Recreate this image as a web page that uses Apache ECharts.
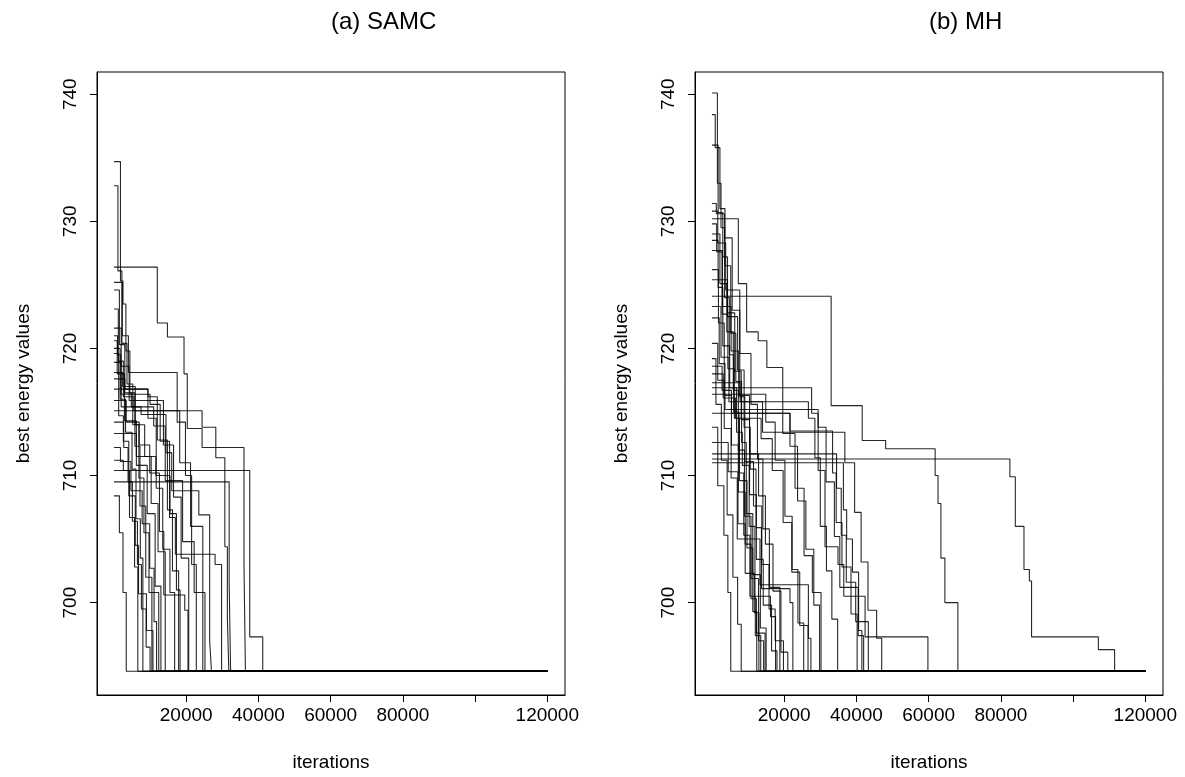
<!DOCTYPE html>
<html>
<head>
<meta charset="utf-8">
<script src="https://cdn.jsdelivr.net/npm/echarts@6/dist/echarts.min.js"></script>
<style>
  html, body { margin: 0; padding: 0; background: #fff; }
  #main { width: 1185px; height: 777px; }
</style>
</head>
<body>
<div id="main"></div>
<script>
// tick values
var xTicks = [20000, 40000, 60000, 80000, 100000, 120000];
var xLabels = [20000, 40000, 60000, 80000, 120000]; // 100000 dropped like in R (overlap)
var yTicks = [700, 710, 720, 730, 740];
var lastIter = 120000;

// (a) SAMC : [iteration, best energy] step points, one list per run
var samcRuns = [
  [[0,734.7],[1800,725.3],[2500,723.5],[3300,719.8],[4400,716.5],[5800,712.3],[7200,707.6],[8800,702],[10500,694.6]],
  [[0,732.8],[1100,726.1],[2200,720.4],[3600,717.2],[5200,714],[6900,709.8],[8300,705.5],[9700,700.8],[12400,694.6]],
  [[0,726.4],[12000,722.0],[14800,720.9],[19400,718.0],[20300,713.7],[24400,712.2],[36000,703],[36400,694.6]],
  [[0,710.4],[37600,697.3],[41200,694.6]],
  [[0,709.5],[31900,701.5],[32300,694.6]],
  [[0,725.2],[2300,721],[4000,718.1],[17500,714.2],[19800,710],[21500,703],[22800,694.6]],
  [[0,724.6],[1500,720.3],[3000,716.8],[9400,714.5],[11700,709],[13500,704.2],[15500,700.8],[16800,694.6]],
  [[0,723.1],[1200,719],[2600,716.2],[5500,715.1],[18200,711],[21200,706],[24600,694.6]],
  [[0,721.6],[2000,718.6],[4200,715.9],[13700,712.4],[16500,708.3],[18600,703.5],[20700,694.6]],
  [[0,720.6],[900,718],[2900,714.3],[6200,710.8],[9200,707],[11400,701.3],[13000,694.6]],
  [[0,720],[1700,716],[3200,713.4],[5000,710.5],[6100,706.6],[7300,703.5],[8000,694.6]],
  [[0,718.9],[2000,715.4],[7500,714.8],[14400,711.8],[16000,708.8],[23500,706.9],[26500,697],[27000,694.6]],
  [[0,718.1],[2400,717],[5900,714],[8500,711.5],[10300,707.8],[12200,704],[14200,694.6]],
  [[0,716.8],[9400,716.2],[12000,712.8],[14800,707.3],[16200,702.5],[17900,694.6]],
  [[0,715.9],[3400,714.2],[7000,712.4],[9900,710.2],[12600,705.6],[13800,700.6],[19600,699.4],[20500,694.6]],
  [[0,715.1],[24400,713.8],[28200,711.4],[30700,704.4],[31400,698.8],[31800,694.6]],
  [[0,714.2],[2700,712.2],[3900,709.5],[5100,706.4],[6500,703],[7600,699.5],[8900,696.5],[10000,694.6]],
  [[0,712.2],[1800,711.1],[4700,708.8],[7800,706.2],[9900,702.7],[11100,698.5],[11800,694.6]],
  [[0,711.2],[2600,710.4],[4300,706.7],[5700,702.8],[6600,694.6]],
  [[0,713.3],[6200,711.5],[11600,710],[15500,707],[17300,701],[18300,694.6]],
  [[0,717.6],[3000,716.5],[4800,715.4],[11000,713.9],[14200,709.6],[19000,704.8],[22200,700.8],[25200,694.6]],
  [[0,708.4],[1500,705.5],[2500,700.8],[3400,694.6]],
  [[0,719.6],[1300,714.7],[2600,712.7],[4100,708.4],[5900,704.5],[6800,700.7],[9000,697.8],[10800,694.6]],
  [[0,721.0],[1000,719.5],[1900,716.4],[10000,715.6],[12800,712.7],[15400,706.7],[17000,703.8],[28000,703],[29800,694.6]]
];

// (b) MH
var mhRuns = [
  [[0,740.1],[1500,733],[2500,729.5],[3500,724],[4800,719.5],[6000,715],[7500,710.2],[8800,705.3],[10500,700.5],[12000,697.4],[13500,694.6]],
  [[0,738.4],[900,735.8],[2200,731],[3600,726.5],[5200,721.2],[6600,717.4],[8200,712.6],[9500,707],[11300,702.2],[13400,698],[15000,694.6]],
  [[0,736],[1700,730.7],[3000,727.2],[4300,722.8],[6300,718.2],[8100,714.4],[10400,708.5],[12300,703.4],[14200,699.8],[16500,696.2],[18000,694.6]],
  [[0,731.4],[1200,730.6],[3500,728.7],[5600,723],[7700,719.6],[10800,715.6],[12600,711.3],[14100,705.8],[15900,701.2],[18800,694.6]],
  [[0,730.2],[7300,725.1],[9600,721.3],[12800,720.6],[15200,718.5],[19600,713.3],[23000,709],[25500,703.7],[27800,700.8],[30200,694.6]],
  [[0,729.8],[1300,727.6],[2800,722.7],[4400,718.4],[6200,714.5],[7600,709.6],[9700,704.3],[11300,699.3],[12400,694.6]],
  [[0,729],[2200,725.1],[4100,721.3],[5900,716.7],[7300,712],[9000,706.8],[10800,701.9],[12900,697],[14300,694.6]],
  [[0,728.5],[1700,724.8],[3000,720.2],[4900,716.9],[6800,713.4],[8400,710.8],[10300,706],[11900,700.5],[16200,698.9],[17600,694.6]],
  [[0,727.7],[2900,723.3],[5300,719.8],[7400,716.2],[9100,711.1],[11500,707.6],[13800,703],[15800,699.5],[17500,697],[19800,694.6]],
  [[0,725.4],[4300,722.5],[7100,718.3],[8900,713.8],[10600,710.5],[12200,705.9],[13700,701.1],[21600,700],[22400,694.6]],
  [[0,724.1],[33000,715.5],[41600,712.75],[48100,712.1],[61800,710],[62600,707.8],[63400,703.5],[64500,700],[68100,694.6]],
  [[0,723.3],[2500,719.3],[4700,715.8],[26700,714.5],[28500,711.4],[30000,706],[31700,702.5],[33200,698.7],[34800,694.6]],
  [[0,722.4],[2000,718.8],[3600,715.2],[29400,713.8],[31600,709.5],[33900,705.2],[35400,701.2],[40500,697.4],[42000,694.6]],
  [[0,718.6],[2800,716.7],[5400,714.9],[21600,712.3],[23700,708],[26000,704.2],[28200,699.8],[29800,694.6]],
  [[0,718],[3100,716.1],[6500,714.5],[13600,712.9],[16700,710.4],[19700,706.3],[22100,702.4],[24300,698.2],[26600,694.6]],
  [[0,717.3],[7800,715.8],[14000,713.4],[36800,711],[39500,707.1],[41300,703.2],[43200,699.4],[45600,697.2],[47000,694.6]],
  [[0,716.4],[14900,714.2],[17500,711.2],[20200,706.8],[22200,702.6],[23800,698.4],[25400,694.6]],
  [[0,714.9],[21600,713.5],[33400,710.2],[34400,706.3],[36000,702.8],[38500,699.1],[40200,694.6]],
  [[0,712.6],[4500,710.3],[7200,706.2],[9200,702.3],[11700,699.2],[13000,694.6]],
  [[0,711.7],[34500,709],[35800,705.3],[37200,701.6],[39800,698.5],[43300,694.6]],
  [[0,711.3],[82500,709.9],[84000,706],[86400,702.6],[87900,701.7],[88500,697.3],[107000,696.3],[111500,694.6]],
  [[0,711],[36400,707.3],[37300,705],[38900,702.4],[40600,697.8],[41500,694.6]],
  [[0,720.4],[1600,717.5],[3400,713.7],[5300,709.8],[7000,705],[13300,701.4],[26700,697.2],[27400,694.6]],
  [[0,719.2],[1100,715.6],[2600,711.2],[4200,706.9],[5800,702],[7100,698.3],[8100,694.6]],
  [[0,726.2],[1800,722],[3400,716.3],[5400,712.4],[7300,708.7],[9200,704.6],[10800,700.3],[12300,697.6],[14700,694.6]],
  [[0,713.8],[1600,709.2],[3300,705.3],[4400,700.8],[5200,694.6]],
  [[0,730.8],[1600,728.3],[3800,724.6],[7700,716.3],[10400,711.7],[12900,708.4],[14800,704.6],[16900,700.9],[19100,696.1],[21000,694.6]],
  [[0,716.9],[27600,714.9],[29400,710.4],[31300,704.4],[34900,703],[36500,700.5],[42400,697.3],[59800,694.6]]
];

var FONT = '"Liberation Sans", Arial, sans-serif';

function plain(v) { return String(v); }

function makeX(idx) {
  return {
    gridIndex: idx, type: 'value', min: -4700, max: 124900,
    name: 'iterations', nameLocation: 'middle', nameGap: 58,
    nameTextStyle: { fontFamily: FONT, fontSize: 19, color: '#000' },
    axisLine: { show: true, onZero: false, lineStyle: { color: '#000', width: 1 } },
    axisTick: { show: true, length: 7, customValues: xTicks, lineStyle: { color: '#000' } },
    axisLabel: { customValues: xLabels, formatter: plain, margin: 11, fontFamily: FONT, fontSize: 19, color: '#000' },
    splitLine: { show: false }
  };
}
function makeY(idx) {
  return {
    gridIndex: idx, type: 'value', min: 692.73, max: 741.75,
    name: 'best energy values', nameLocation: 'middle', nameGap: 64, nameRotate: 90,
    nameTextStyle: { fontFamily: FONT, fontSize: 19, color: '#000' },
    axisLine: { show: true, onZero: false, lineStyle: { color: '#000', width: 1 } },
    axisTick: { show: true, length: 7, customValues: yTicks, lineStyle: { color: '#000' } },
    axisLabel: { customValues: yTicks, formatter: plain, rotate: 90, margin: 17, fontFamily: FONT, fontSize: 19, color: '#000' },
    splitLine: { show: false }
  };
}

function runSeries(runs, idx) {
  return runs.map(function (r) {
    var pts = r.slice();
    pts.push([lastIter, r[r.length - 1][1]]);
    return {
      type: 'line', step: 'end', xAxisIndex: idx, yAxisIndex: idx,
      data: pts, symbol: 'none', silent: true,
      lineStyle: { color: '#000', width: 1.1, opacity: 0.85 }
    };
  });
}

var chart = echarts.init(document.getElementById('main'), null, { renderer: 'canvas' });
chart.setOption({
  animation: false,
  backgroundColor: '#fff',
  graphic: [
    { type: 'text', left: 331, top: 10, style: { text: '(a) SAMC', font: '24px ' + FONT, fill: '#000', textAlign: 'center' } },
    { type: 'text', left: 929, top: 10, style: { text: '(b) MH', font: '24px ' + FONT, fill: '#000', textAlign: 'center' } }
  ],
  grid: [
    { left: 97, top: 72, width: 468, height: 625, show: true, borderColor: '#000', borderWidth: 1, backgroundColor: 'transparent' },
    { left: 695, top: 72, width: 468, height: 625, show: true, borderColor: '#000', borderWidth: 1, backgroundColor: 'transparent' }
  ],
  xAxis: [makeX(0), makeX(1)],
  yAxis: [makeY(0), makeY(1)],
  series: runSeries(samcRuns, 0).concat(runSeries(mhRuns, 1))
});
</script>
</body>
</html>
